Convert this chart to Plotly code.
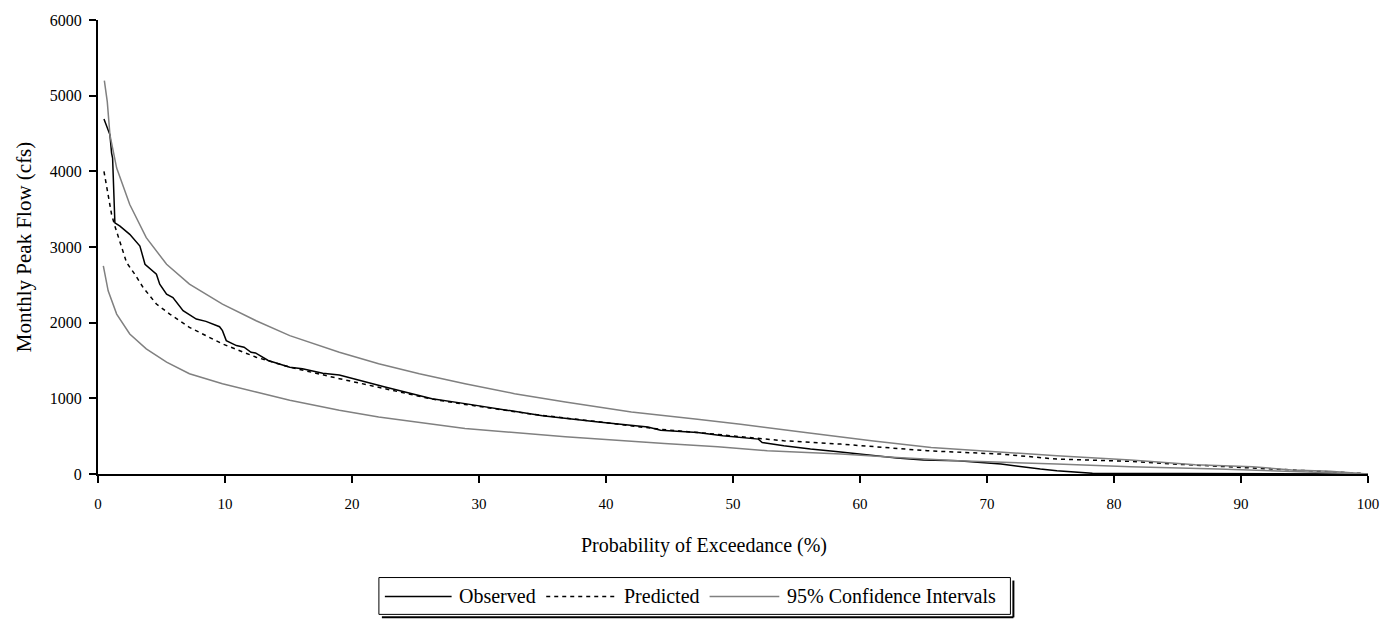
import plotly.graph_objects as go

obs_x = [0.47, 0.94, 1.07, 1.15, 1.33, 1.73, 2.5, 3.3, 3.7, 4.6, 4.86, 5.4, 5.9, 6.7, 7.74, 8.5, 9.57, 9.8,
         10.1, 10.9, 11.5, 12.05, 12.4, 13.4, 15.1, 16.1, 17.7, 19.0, 22.6, 26.3, 28.9, 34.2, 35.0, 39.4,
         43.3, 44.3, 47.2, 49.2, 52.0, 52.3, 54.0, 56.1, 58.1, 62.9, 65.0, 67.7, 71.1, 74.2, 75.5, 78.3, 83.0, 100.0]
obs_y = [4693, 4482, 4241, 4175, 3320, 3276, 3167, 3013, 2772, 2640, 2509, 2377, 2333, 2158, 2048, 2017, 1947, 1895,
         1763, 1697, 1675, 1609, 1600, 1500, 1412, 1390, 1333, 1307, 1149, 996, 930, 798, 770, 688,
         622, 579, 548, 504, 461, 417, 373, 329, 298, 210, 184, 175, 132, 66, 44, 9, 5, 0]

pred_x = [0.47, 0.68, 1.07, 1.33, 1.73, 2.25, 2.9, 3.55, 4.6, 5.65, 7.2, 9.8, 12.45, 15.1, 19.0, 22.6, 26.3,
          28.9, 34.2, 39.4, 44.3, 47.2, 54.0, 58.5, 65.3, 71.1, 75.5, 81.3, 84.7, 90.9, 96.7, 99.4, 100.0]
pred_y = [4000, 3780, 3430, 3276, 3079, 2794, 2640, 2465, 2246, 2114, 1938, 1719, 1544, 1412, 1260, 1130, 990,
          920, 790, 690, 590, 548, 439, 395, 307, 263, 197, 167, 132, 79, 35, 9, 0]

up_x = [0.5, 0.73, 0.94, 1.47, 2.5, 3.8, 5.4, 7.2, 9.8, 12.45, 15.1, 19.0, 22.1, 25.3, 28.9, 32.8, 36.8, 42.0,
        47.2, 50.6, 55.7, 60.9, 65.6, 71.1, 75.5, 81.3, 83.7, 86.4, 90.9, 94.0, 97.0, 99.4, 100.0]
up_y = [5200, 4921, 4482, 4043, 3562, 3123, 2772, 2509, 2246, 2026, 1829, 1609, 1456, 1325, 1193, 1062, 952, 820,
        724, 658, 548, 439, 351, 285, 241, 184, 154, 123, 96, 53, 35, 9, 0]

lo_x = [0.42, 0.8, 1.47, 2.5, 3.8, 5.4, 7.2, 9.8, 12.45, 15.1, 19.0, 22.1, 28.9, 36.8, 44.6, 48.8, 52.7, 58.5,
        62.9, 67.7, 75.5, 81.3, 88.2, 94.0, 99.4, 100.0]
lo_y = [2750, 2421, 2114, 1851, 1653, 1478, 1325, 1193, 1083, 974, 842, 754, 601, 491, 404, 359, 307, 263,
        219, 175, 132, 96, 66, 35, 9, 0]

x_ticks = list(range(0, 101, 10))
y_ticks = list(range(0, 6001, 1000))
series_names = ["Observed", "Predicted", "95% Confidence Intervals"]
x_title = "Probability of Exceedance (%)"
y_title = "Monthly Peak Flow (cfs)"

FONT = "Liberation Serif, Times New Roman, serif"
GREY = "#808080"
W, H = 1391, 638
ML, MR, MT, MB = 98, 18, 18, 164
PW, PH = W - ML - MR, H - MT - MB


def px(x):
    return (x - ML) / PW


def py(y):
    return (H - MB - y) / PH


styles = [dict(color="black", width=1.5),
          dict(color="black", width=1.5, dash="4px,4px"),
          dict(color=GREY, width=1.5)]

fig = go.Figure()
fig.add_trace(go.Scatter(x=obs_x, y=obs_y, mode="lines", name=series_names[0], line=styles[0]))
fig.add_trace(go.Scatter(x=pred_x, y=pred_y, mode="lines", name=series_names[1], line=styles[1]))
fig.add_trace(go.Scatter(x=up_x, y=up_y, mode="lines", name=series_names[2], legendgroup="ci", line=styles[2]))
fig.add_trace(go.Scatter(x=lo_x, y=lo_y, mode="lines", name=series_names[2], legendgroup="ci",
                         showlegend=False, line=styles[2]))

# manual legend (Excel style box with shadow)
box_l, box_r, box_t, box_b = 380, 1014, 578, 615
ly = 597
items = [(386, 453, 458), (548, 618, 624), (712, 782, 788)]
shapes = [
    dict(type="rect", xref="paper", yref="paper", x0=px(box_l), x1=px(box_r), y0=py(box_b), y1=py(box_t),
         line=dict(color="black", width=1), fillcolor="white", layer="above"),
    dict(type="line", xref="paper", yref="paper", x0=px(box_r + 3), x1=px(box_r + 3), y0=py(box_t + 3),
         y1=py(box_b + 3), line=dict(color="black", width=2)),
    dict(type="line", xref="paper", yref="paper", x0=px(box_l + 3), x1=px(box_r + 3), y0=py(box_b + 3),
         y1=py(box_b + 3), line=dict(color="black", width=2)),
]
annotations = []
for (l0, l1, tx), name, st in zip(items, series_names, styles):
    shapes.append(dict(type="line", xref="paper", yref="paper", x0=px(l0), x1=px(l1), y0=py(ly), y1=py(ly),
                       line=st, layer="above"))
    annotations.append(dict(xref="paper", yref="paper", x=px(tx), y=py(ly), text=name, showarrow=False,
                            xanchor="left", yanchor="middle", font=dict(size=20, family=FONT, color="black")))

# x axis title (centred on the chart area, as in the original)
annotations.append(dict(xref="paper", yref="paper", x=px(706), y=py(546), text=x_title, showarrow=False,
                        xanchor="center", yanchor="middle", font=dict(size=20, family=FONT, color="black")))

fig.update_layout(
    width=W, height=H,
    margin=dict(l=ML, r=MR, t=MT, b=MB),
    paper_bgcolor="white", plot_bgcolor="white",
    font=dict(family=FONT, color="black", size=15),
    showlegend=False,
    shapes=shapes, annotations=annotations,
    xaxis=dict(range=[0, 100], tickvals=x_ticks, ticktext=[str(v) for v in x_ticks],
               showgrid=False, zeroline=False, showline=True, linecolor="black", linewidth=2,
               ticks="outside", ticklen=7, tickcolor="black", tickwidth=1.5, ticklabelstandoff=8,
               tickfont=dict(size=15, family=FONT)),
    yaxis=dict(range=[0, 6000], tickvals=y_ticks, ticktext=[str(v) for v in y_ticks],
               showgrid=False, zeroline=False, showline=True, linecolor="black", linewidth=2,
               ticks="outside", ticklen=7, tickcolor="black", tickwidth=1.5, ticklabelstandoff=4,
               tickfont=dict(size=16, family=FONT),
               title=dict(text=y_title, font=dict(size=21, family=FONT), standoff=12)),
)

fig.write_html("out.html")
